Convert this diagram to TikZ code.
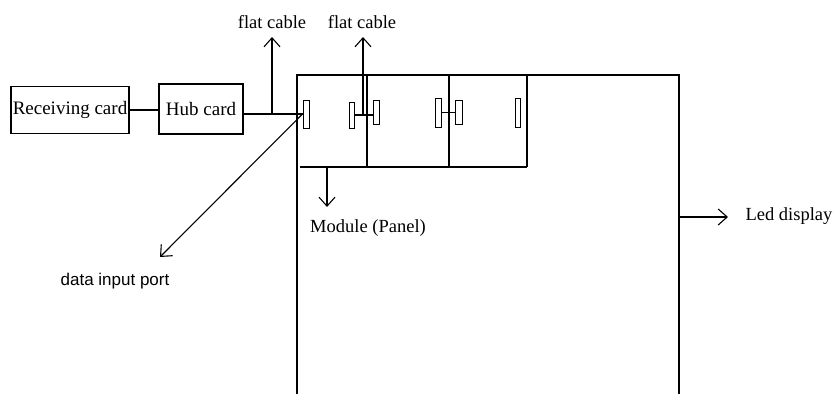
\documentclass[tikz,border=0pt]{standalone}
\usepackage{fontspec}
\setmainfont{Liberation Serif}
\newfontfamily\arialfont{Liberation Sans}
\usetikzlibrary{arrows.meta}

\begin{document}
\begin{tikzpicture}[x=1pt,y=-1pt,line width=1.1pt,
		card/.style={draw,inner sep=0pt,font=\fontsize{19}{21}\selectfont},
		port/.style={draw,inner sep=0pt,line width=1pt},
		lbl/.style={inner sep=0pt,font=\fontsize{18.5}{20}\selectfont},
		arr/.style={-{Straight Barb[length=9pt,width=16pt]}}]
		\useasboundingbox (0,0) rectangle (835,394);
		% cards
		\node[card,minimum width=118pt,minimum height=47pt] (recv) at (70,110) {Receiving card};
		\node[card,minimum width=84pt,minimum height=50pt] (hub) at (201,109) {Hub card};
		% led display and modules
		\draw (297,394) |- (679,75) -- (679,394);
		\foreach \x in {367,449,527} \draw (\x,75) -- (\x,167);
		\draw (300,167) -- (527,167);
		% ports
		\node[port,minimum width=6pt,minimum height=28pt] (p1) at (306,114) {};
		\node[port,minimum width=5pt,minimum height=26pt] (p2) at (351.5,115) {};
		\node[port,minimum width=6pt,minimum height=24pt] (p3) at (376,112) {};
		\node[port,minimum width=6pt,minimum height=29pt] (p4) at (438,112.5) {};
		\node[port,minimum width=7pt,minimum height=24pt] (p5) at (458.5,112) {};
		\node[port,minimum width=5pt,minimum height=29pt] (p6) at (517.5,112.5) {};
		% links
		\draw (recv.east) -- (recv.east -| hub.west);
		\draw (p1.west -| hub.east) -- (p1.west);
		\draw (p2.east) -- (p2.east -| p3.west);
		\draw (p4.east) -- (p4.east -| p5.west);
		% labels
		\node[lbl] (fc1) at (272,22) {flat cable};
		\node[lbl] (fc2) at (362,22) {flat cable};
		\node[lbl] (mod) at (368,228) {Module (Panel)};
		\node[lbl] (led) at (789,216) {Led display};
		\node[lbl,font=\arialfont\fontsize{17}{19}\selectfont] (dip) at (115,281) {data input port};
		% pointers
		\coordinate (c1) at (272,113);
		\coordinate (c2) at (363,115);
		\coordinate (m1) at (327,167);
		\coordinate (l1) at (679,217);
		\coordinate (dtip) at (160,257);
		\draw[arr] (c1) -- (c1 |- 0,37);
		\draw[arr] (c2) -- (c2 |- 0,37);
		\draw[arr] (m1) -- (m1 |- 0,207);
		\draw[arr] (l1) -- (728,217);
		\draw[arr] (p1.west) -- (dtip);
	\end{tikzpicture}
\end{document}
